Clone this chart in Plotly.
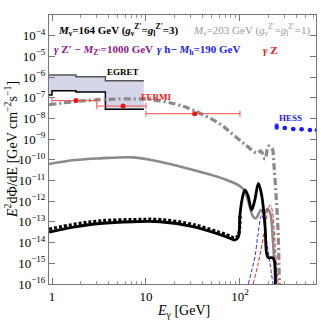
import plotly.graph_objects as go

# ---------------- data ----------------
egret_edges = [0.85, 1.0, 1.8, 3.7, 9.5]
egret_upper = [1.26e-6, 1.26e-6, 1.03e-6, 6.6e-7]
egret_lower = [1.35e-7, 2.2e-7, 1.9e-7, 2.8e-8]

fermi_E = [1.8, 5.7, 33.0]
fermi_lo = [1.0, 3.0, 10.0]
fermi_hi = [3.0, 10.0, 100.0]
fermi_flux = [7.3e-8, 4.0e-8, 1.7e-8]

hess_E = [246, 300, 369, 453, 555, 660]
hess_flux = [4.0e-9, 3.5e-9, 3.1e-9, 3.0e-9, 2.8e-9, 2.7e-9]
hess_err_up = [1.3e-9, 0, 0, 0, 0, 0]
hess_err_dn = [0.9e-9, 0, 0, 0, 0, 0]

# M=203 GeV, dash-dot grey curve
dd_E = [0.93, 1.76, 3.85, 10.2, 20.4, 33.2, 61.2, 88.5, 119, 152, 167, 185, 201, 219, 230, 242, 254, 265]
dd_F = [4.6e-8, 6.6e-8, 8.4e-8, 8.4e-8, 5.0e-8, 2.3e-8, 5.4e-9, 1.4e-9, 4.6e-10, 2.1e-10,
        2.7e-10, 1.1e-10, 4.6e-10, 3.7e-10, 5.6e-11, 2.0e-12, 4.1e-14, 1e-17]

# grey solid curve
gs_E = [0.93, 1.76, 3.24, 7.27, 14.1, 31.9, 72.2, 108, 138, 148, 167, 180, 194, 208, 224, 242]
gs_F = [6.3e-11, 9.8e-11, 1.18e-10, 1.32e-10, 8.1e-11, 3.2e-11, 1.06e-11, 3.9e-12, 1.8e-13,
        1.5e-13, 3.8e-13, 2.4e-13, 4.2e-13, 3.0e-13, 1.3e-14, 1e-17]

# M=164 GeV black solid curve
bs_E = [0.93, 1.76, 3.24, 7.27, 14.1, 31.6, 72.2, 88.5, 95.9, 100, 105, 113, 122, 133, 144,
        157, 170, 185, 192, 200, 226, 232]
bs_F = [3.2e-14, 5.7e-14, 8.4e-14, 1.02e-13, 1.02e-13, 5.9e-14, 1.9e-14, 1.34e-14, 1.86e-14,
        2.15e-13, 1.15e-12, 3.5e-12, 1.8e-12, 3.8e-13, 1.15e-12, 7.3e-12, 2.0e-12, 5.9e-14,
        3.0e-15, 1.9e-15, 1.75e-15, 1e-17]

# black dotted curve
bd_E = [0.93, 1.76, 3.24, 7.27, 14.1, 31.6, 72.2, 88.5, 95.9, 100]
bd_F = [4.5e-14, 7.8e-14, 1.12e-13, 1.3e-13, 1.3e-13, 7.5e-14, 2.4e-14, 1.7e-14, 2.3e-14, 2.15e-13]

# blue dashed (gamma h line)
bl_E = [122.5, 134, 144.5, 155, 170, 180, 192, 208, 224]
bl_F = [1e-16, 4.8e-16, 2.1e-15, 2.3e-14, 2.15e-13, 1.0e-13, 1.3e-14, 1.15e-15, 1e-16]

# red dashed (gamma Z line)
rd_E = [138, 155, 171, 189, 201, 211, 222, 236, 254]
rd_F = [1e-16, 8.3e-16, 7.6e-15, 1.0e-13, 4.7e-13, 6.5e-13, 3.0e-13, 9.6e-15, 1e-16]

y_ticks = list(range(-16, -3))
x_ticks = [1, 10, 100]
x_ticktext = ["1", "10", "10<sup>2</sup>"]

# ---------------- figure ----------------
SERIF = "Liberation Serif"
fig = go.Figure()

# EGRET band polygon built from bin edges
ux, uy, lx, ly = [], [], [], []
for i, v in enumerate(egret_upper):
    ux += [egret_edges[i], egret_edges[i + 1]]
    uy += [v, v]
for i, v in enumerate(egret_lower):
    lx += [egret_edges[i], egret_edges[i + 1]]
    ly += [v, v]
fig.add_trace(go.Scatter(x=ux + lx[::-1], y=uy + ly[::-1], fill="toself",
                         fillcolor="rgb(214,214,234)", line=dict(width=0),
                         mode="lines", hoverinfo="skip"))
fig.add_trace(go.Scatter(x=ux, y=uy, mode="lines", line=dict(color="#555555", width=1.5)))
fig.add_trace(go.Scatter(x=lx, y=ly, mode="lines", line=dict(color="black", width=1.5)))

# grey solid
fig.add_trace(go.Scatter(x=gs_E, y=gs_F, mode="lines", line_shape="spline",
                         line=dict(color="#8a8a8a", width=2.6)))
# blue dashed / red dashed
fig.add_trace(go.Scatter(x=bl_E, y=bl_F, mode="lines", line_shape="spline",
                         line=dict(color="#3333ff", width=1, dash="4px,2px")))
fig.add_trace(go.Scatter(x=rd_E, y=rd_F, mode="lines", line_shape="spline",
                         line=dict(color="#ee2222", width=1, dash="4px,2px")))
# black dotted
fig.add_trace(go.Scatter(x=bd_E, y=bd_F, mode="lines", line_shape="spline",
                         line=dict(color="black", width=3.2, dash="3px,2px")))
# black solid
fig.add_trace(go.Scatter(x=bs_E, y=bs_F, mode="lines", line_shape="spline",
                         line=dict(color="black", width=2.8)))
# grey dash-dot
fig.add_trace(go.Scatter(x=dd_E, y=dd_F, mode="lines", line_shape="spline",
                         line=dict(color="#8a8a8a", width=3.2, dash="7px,3px,2px,3px")))

# FERMI points
fig.add_trace(go.Scatter(
    x=fermi_E, y=fermi_flux, mode="markers",
    marker=dict(color="#ee1111", size=5),
    error_x=dict(type="data", symmetric=False,
                 array=[h - e for h, e in zip(fermi_hi, fermi_E)],
                 arrayminus=[e - l for e, l in zip(fermi_E, fermi_lo)],
                 color="#f05050", thickness=1, width=3)))

# HESS points
fig.add_trace(go.Scatter(
    x=hess_E, y=hess_flux, mode="markers",
    marker=dict(color="#1a1aff", size=4.5),
    error_y=dict(type="data", symmetric=False, array=hess_err_up, arrayminus=hess_err_dn,
                 color="#1a1aff", thickness=1, width=2)))

def px(x):
    return (x - 49) / 267.0

def py(y):
    return (284 - y) / 269.0

ann = [
    dict(x=px(56), y=py(30), xanchor="left", color="black", size=11,
         text="<b><i>M</i><sub>ν</sub>=164 GeV (<i>g</i><sub>ν</sub><sup>Z′</sup>=<i>g</i><sub>l</sub><sup>Z′</sup>=3)</b>"),
    dict(x=px(312), y=py(30), xanchor="right", color="#999999", size=11,
         text="<i>M</i><sub>ν</sub>=203 GeV (<i>g</i><sub>ν</sub><sup>Z′</sup>=<i>g</i><sub>l</sub><sup>Z′</sup>=1)"),
    dict(x=px(52), y=py(50), xanchor="left", color="#8b1a8b", size=11,
         text="<b><i>γ</i> Z′ − <i>M</i><sub>Z′</sub>=1000 GeV</b>"),
    dict(x=px(155), y=py(50), xanchor="left", color="#1a1aff", size=11,
         text="<b><i>γ</i> h− <i>M</i><sub>h</sub>=190 GeV</b>"),
    dict(x=px(261), y=py(50), xanchor="left", color="#ee1111", size=11,
         text="<b><i>γ</i> Z</b>"),
    dict(x=px(123), y=py(72), xanchor="center", color="black", size=9, text="<b>EGRET</b>"),
    dict(x=px(156), y=py(97), xanchor="center", color="#ee1111", size=9, text="<b>FERMI</b>"),
    dict(x=px(290.5), y=py(118), xanchor="center", color="#1a1aff", size=9, text="<b>HESS</b>"),
]
for a in ann:
    fig.add_annotation(x=a["x"], y=a["y"], xref="paper", yref="paper", text=a["text"],
                       showarrow=False, xanchor=a["xanchor"], yanchor="middle",
                       font=dict(family=SERIF, size=a["size"], color=a["color"]))

# axis titles as annotations
fig.add_annotation(x=px(11), y=py(150), xref="paper", yref="paper", showarrow=False,
                   textangle=-90, xanchor="center", yanchor="middle",
                   text="<i>E</i><sup>2</sup>dΦ/dE [GeV cm<sup>−2</sup>s<sup>−1</sup>]",
                   font=dict(family=SERIF, size=14, color="black"))
fig.add_annotation(x=px(183), y=py(312), xref="paper", yref="paper", showarrow=False,
                   xanchor="center", yanchor="middle",
                   text="<i>E</i><sub>γ</sub> [GeV]",
                   font=dict(family=SERIF, size=14, color="black"))

axis_common = dict(showgrid=False, zeroline=False, showline=True, linecolor="#777777",
                   linewidth=1, mirror="allticks", ticks="inside", ticklen=6,
                   tickcolor="#777777", tickfont=dict(family=SERIF, size=13, color="black"))

fig.update_xaxes(type="log", range=[-0.032, 2.809], tickvals=x_ticks, ticktext=x_ticktext,
                 minor=dict(ticks="inside", ticklen=3, tickcolor="#999999", showgrid=False,
                            dtick="D1"),
                 **axis_common)
fig.update_yaxes(type="log", range=[-16, -3], tickvals=[10 ** k for k in y_ticks],
                 ticktext=["10<sup>−%d</sup>" % (-k) for k in y_ticks],
                 minor=dict(ticks="inside", ticklen=3, tickcolor="#999999", showgrid=False),
                 **axis_common)

fig.update_layout(width=321, height=324, margin=dict(l=49, r=5, t=15, b=40, autoexpand=False),
                  plot_bgcolor="white", paper_bgcolor="white", showlegend=False)

# remove the default page-body margin so the figure sits at the window's top-left corner
fig.write_html("out.html", config={"displayModeBar": False},
               post_script="document.body.style.margin='0';document.body.style.overflow='hidden';")
